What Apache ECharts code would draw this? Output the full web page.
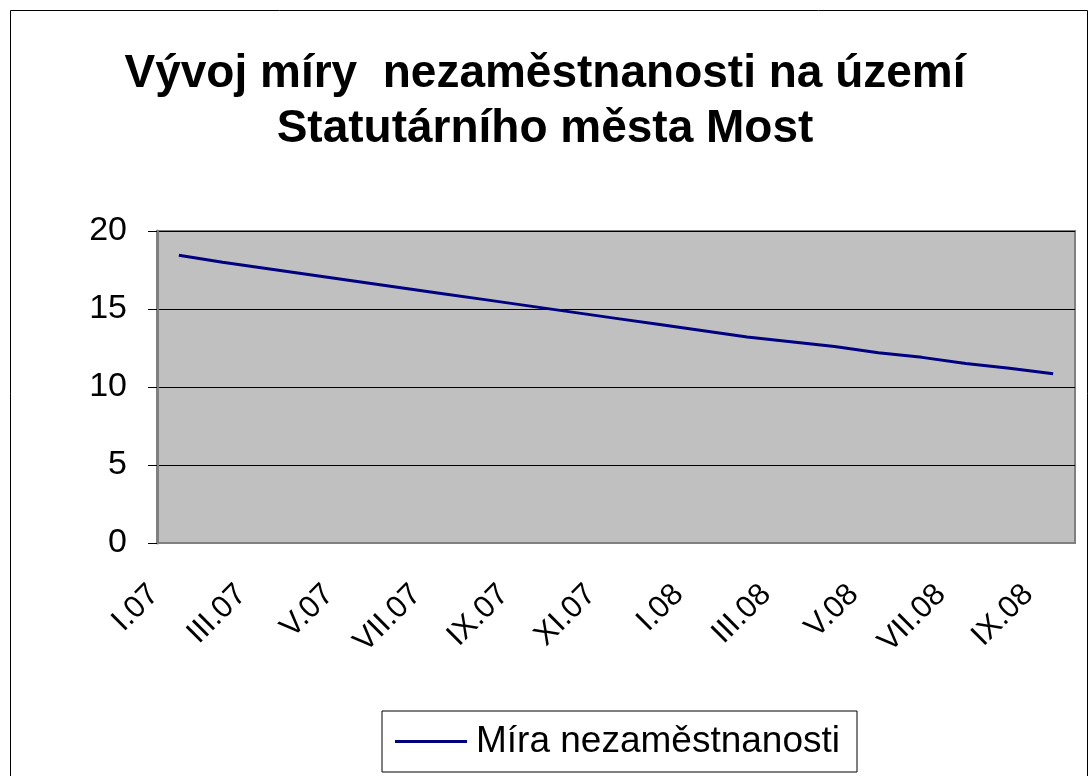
<!DOCTYPE html>
<html>
<head>
<meta charset="utf-8">
<script src="https://cdn.jsdelivr.net/npm/echarts@6/dist/echarts.min.js"></script>
<style>
  html, body { margin: 0; padding: 0; background: #fff; }
  #chart { width: 1090px; height: 776px; }
</style>
</head>
<body>
<div id="chart"></div>
<script>
// mesice I.07 .. IX.08
var months = ['I.07','II.07','III.07','IV.07','V.07','VI.07','VII.07','VIII.07','IX.07','X.07','XI.07','XII.07',
              'I.08','II.08','III.08','IV.08','V.08','VI.08','VII.08','VIII.08','IX.08'];
var seriesName = 'Míra nezaměstnanosti';
var rate = [18.45, 18.0, 17.6, 17.2, 16.8, 16.4, 16.0, 15.6, 15.2, 14.8, 14.4, 14.0,
            13.6, 13.2, 12.9, 12.6, 12.2, 11.9, 11.5, 11.2, 10.85];
var yTicks = [0, 5, 10, 15, 20];

var font = 'Liberation Sans, Arial, sans-serif';
var chart = echarts.init(document.getElementById('chart'));

var option = {
  animation: false,
  backgroundColor: '#fff',
  title: {
    text: 'Vývoj míry  nezaměstnanosti na území\nStatutárního města Most',
    left: 'center',
    top: 42,
    textStyle: {
      fontFamily: font,
      fontSize: 46,
      fontWeight: 'bold',
      color: '#000',
      lineHeight: 55
    }
  },
  legend: {
    data: [{ name: seriesName, icon: 'rect' }],
    bottom: 4,
    left: 382,
    itemWidth: 72,
    itemHeight: 3,
    itemGap: 0,
    padding: [12, 17, 12, 13],
    borderColor: '#000',
    borderWidth: 1,
    textStyle: { fontFamily: font, fontSize: 37, color: '#000', padding: [0, 0, 0, 4] }
  },
  grid: {
    left: 157,
    right: 15,
    top: 231,
    bottom: 233,
    show: true,
    backgroundColor: '#c0c0c0',
    borderColor: '#808080',
    borderWidth: 2
  },
  xAxis: {
    type: 'category',
    data: months,
    boundaryGap: true,
    axisLine: { lineStyle: { color: '#808080', width: 2 } },
    axisTick: { interval: 1, length: 10, lineStyle: { color: '#808080', width: 2 } },
    axisLabel: {
      interval: 1,
      rotate: 45,
      margin: 22,
      padding: [0, 35, 0, 0],
      fontFamily: font,
      fontSize: 31,
      color: '#000'
    },
    splitLine: { show: false }
  },
  yAxis: {
    type: 'value',
    min: yTicks[0],
    max: yTicks[yTicks.length - 1],
    interval: 5,
    axisLine: { show: true, lineStyle: { color: '#808080', width: 3 } },
    axisTick: { show: true, length: 9, inside: false, lineStyle: { color: '#000', width: 1 } },
    axisLabel: { margin: 30, fontFamily: font, fontSize: 34, color: '#000' },
    splitLine: { lineStyle: { color: '#000', width: 1 } }
  },
  series: [{
    name: seriesName,
    type: 'line',
    data: rate,
    symbol: 'none',
    lineStyle: { color: '#000080', width: 3 },
    itemStyle: { color: '#000080' }
  }],
  graphic: [{
    type: 'rect',
    shape: { x: 10.5, y: 10.5, width: 1077, height: 780 },
    style: { fill: 'none', stroke: '#000', lineWidth: 1 },
    silent: true,
    z: -1
  }]
};

chart.setOption(option);
</script>
</body>
</html>
